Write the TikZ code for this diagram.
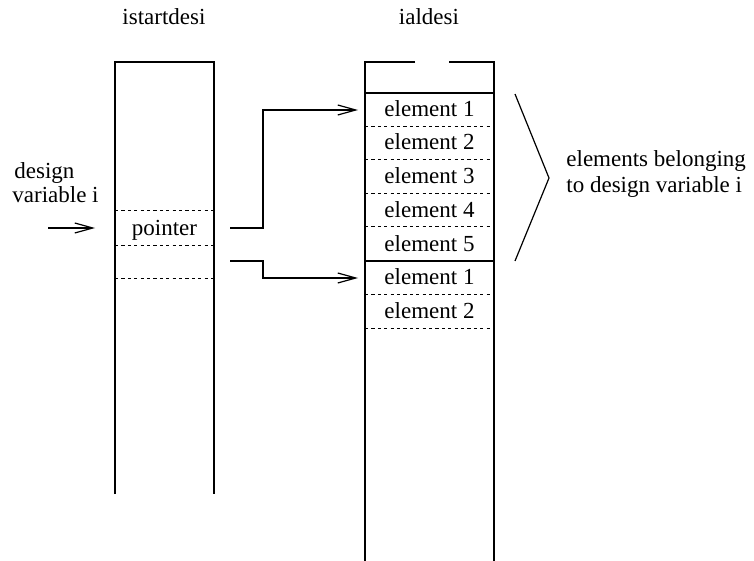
\documentclass[tikz,border=0pt]{standalone}
\usepackage{fontspec}
\setmainfont{Liberation Serif}
\usetikzlibrary{arrows.meta,positioning,calc}
\tikzset{
  wall/.style={line width=0.6pt},
  sep/.style={line width=0.5pt, dash pattern=on 1.6pt off 1.6pt},
  ptr/.style={-{Straight Barb[length=9pt,width=5pt]}, line width=0.6pt},
  lbl/.style={inner sep=0pt, font=\fontsize{11.5}{14}\selectfont},
}
\begin{document}
\begin{tikzpicture}[x=0.5pt,y=-0.5pt]
\useasboundingbox (0,0) rectangle (754,561);
% column headers
\node[lbl] (hstart) at (164,17) {istartdesi};
\node[lbl] (hald) at (429,17) {ialdesi};
% istartdesi column
\draw[wall] (115,494) -- (115,62) -- (214,62) -- (214,494);
\foreach \y in {211,245,278}
  \draw[sep] (115,\y) -- (214,\y);
\node[lbl, anchor=base] (ptr) at (164.5,235) {pointer};
% ialdesi column
\draw[wall] (415,62) -- (365,62) -- (365,561);
\draw[wall] (449,62) -- (494,62) -- (494,561);
\draw[wall] (365,93) -- (494,93);
\draw[wall] (365,261) -- (494,261);
\foreach \i/\y in {1/117,2/150,3/184,4/218,5/251}
  \node[lbl, anchor=base] (ea\i) at (429.5,\y) {element \i};
\foreach \y in {127,160,194,227}
  \draw[sep] (365,\y) -- (494,\y);
\foreach \i/\y in {1/285,2/318}
  \node[lbl, anchor=base] (eb\i) at (429.5,\y) {element \i};
\foreach \y in {294,328}
  \draw[sep] (365,\y) -- (494,\y);
% pointers
\coordinate (pa) at (230,228);
\coordinate (pb) at (230,261);
\coordinate (ta) at (358,110);
\coordinate (tb) at (358,278);
\draw[ptr] (pa) -| (263,110) -- (ta);
\draw[ptr] (pb) -| (263,278) -- (tb);
% design variable
\node[lbl, anchor=base west] (dv1) at (14,179) {design};
\node[lbl, anchor=base west] (dv2) at (12,203) {variable i};
\coordinate (din) at (48,228);
\draw[ptr] (din) -- (95,228);
% brace
\draw[wall] (515,94) -- (549,178) -- (515,261);
\node[lbl, anchor=base west] (grp1) at (566,167) {elements belonging};
\node[lbl, anchor=base west] (grp2) at (566,193) {to design variable i};
\end{tikzpicture}
\end{document}
